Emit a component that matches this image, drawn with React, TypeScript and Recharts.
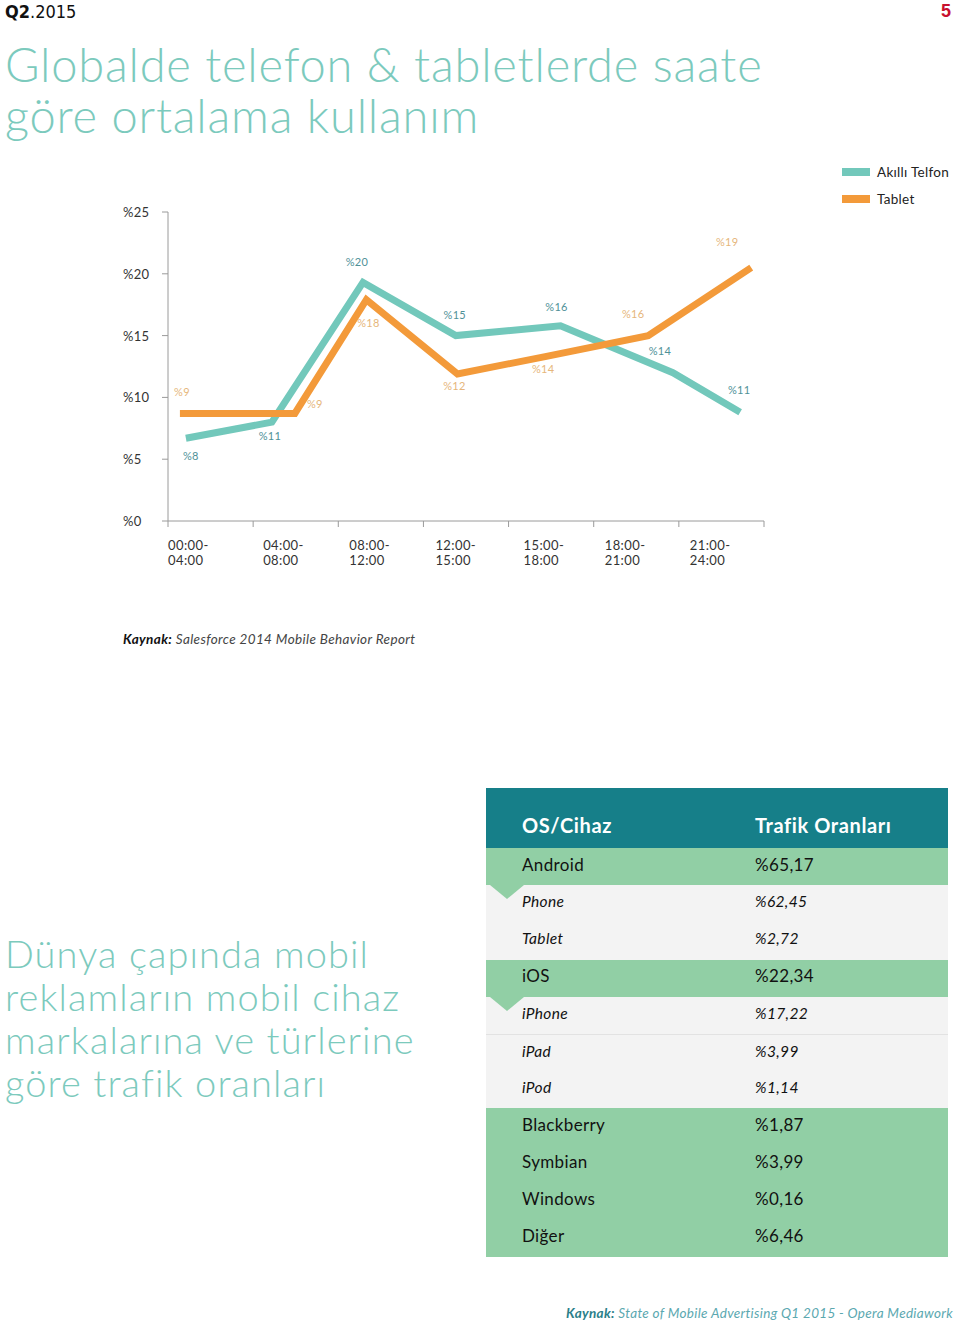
import { LineChart, Line, XAxis, YAxis, LabelList } from 'recharts';

// saat dilimleri (x ekseni)
const slotStarts = ['00:00', '04:00', '08:00', '12:00', '15:00', '18:00', '21:00'];
const slotEnds = ['04:00', '08:00', '12:00', '15:00', '18:00', '21:00', '24:00'];
const yTicks = [0, 5, 10, 15, 20, 25];

// Akıllı telefon
const phoneX = [0.21, 1.22, 2.29, 3.38, 4.61, 5.93, 6.72];
const phoneY = [6.7, 8.0, 19.3, 15.0, 15.8, 12.0, 8.8];
const phoneLabels = ['%8', '%11', '%20', '%15', '%16', '%14', '%11'];

// Tablet
const tabletX = [0.14, 1.49, 2.33, 3.4, 4.43, 5.64, 6.85];
const tabletY = [8.7, 8.7, 17.9, 11.9, 13.3, 15.0, 20.5];
const tabletLabels = ['%9', '%9', '%18', '%12', '%14', '%16', '%19'];

// tablo
const tableRows = [
  { name: 'Android', value: '%65,17', kind: 'os', notch: true },
  { name: 'Phone', value: '%62,45', kind: 'sub' },
  { name: 'Tablet', value: '%2,72', kind: 'sub' },
  { name: 'iOS', value: '%22,34', kind: 'os', notch: true },
  { name: 'iPhone', value: '%17,22', kind: 'sub' },
  { name: 'iPad', value: '%3,99', kind: 'sub', line: true },
  { name: 'iPod', value: '%1,14', kind: 'sub' },
  { name: 'Blackberry', value: '%1,87', kind: 'os' },
  { name: 'Symbian', value: '%3,99', kind: 'os' },
  { name: 'Windows', value: '%0,16', kind: 'os' },
  { name: 'Diğer', value: '%6,46', kind: 'os' },
];

const phoneData = phoneX.map((x, i) => ({ x, y: phoneY[i] }));
const tabletData = tabletX.map((x, i) => ({ x, y: tabletY[i] }));

// label offsets (px) from each vertex
const phoneOff = [[5, 17], [-2, 13], [-6, -21], [-1, -21], [-4, -19], [-13, -22], [-1, -23]];
const tabletOff = [[2, -22], [20, -10], [2, 23], [-3, 12], [-2, 12], [-15, -22], [-24, -26]];
// x tick label shift from tick mark
const slotShift = [0, 10, 11, 12, 15, 11, 11];

const TEAL = '#72c8bb';
const ORANGE = '#f39a3a';
const FONT = 'Lato, "Open Sans", sans-serif';

function pointLabel(labels: string[], offs: number[][], color: string) {
  return (props: any) => {
    const { x, y, index } = props;
    return (
      <text
        x={x + offs[index][0]}
        y={y + offs[index][1]}
        textAnchor="middle"
        dominantBaseline="central"
        fontSize={11}
        fill={color}
        fontFamily={FONT}
        letterSpacing={0.3}
      >
        {labels[index]}
      </text>
    );
  };
}

function XTick(props: any) {
  const { x, y, payload } = props;
  const i = payload.value;
  if (i >= slotStarts.length) return null;
  const tx = x + slotShift[i];
  return (
    <text x={tx} y={y} fontSize={13} fill="#333" fontFamily={FONT} letterSpacing={0.4}>
      <tspan x={tx} dy={21}>{slotStarts[i]}-</tspan>
      <tspan x={tx} dy={15}>{slotEnds[i]}</tspan>
    </text>
  );
}

function YTick(props: any) {
  const { x, y, payload } = props;
  return (
    <text x={x - 39} y={y} dominantBaseline="central" fontSize={13} fill="#333" fontFamily={FONT} letterSpacing={0.3}>
      %{payload.value}
    </text>
  );
}

export default function App() {
  return (
    <div style={{ position: 'absolute', left: 0, top: 0, width: 960, height: 1327, background: '#fff', fontFamily: FONT }}>
      <div style={{ position: 'absolute', left: 5, top: 1, fontSize: 18, fontFamily: '"Liberation Sans Narrow", "DejaVu Sans Condensed", sans-serif', color: '#111' }}>
        <b>Q2</b>.2015
      </div>
      <div style={{ position: 'absolute', right: 9, top: 1, fontSize: 18, fontWeight: 700, color: '#c8102e', fontFamily: '"Liberation Sans Narrow", sans-serif' }}>
        5
      </div>
      <div style={{ position: 'absolute', left: 5, top: 39, fontSize: 47, lineHeight: '51px', fontWeight: 300, letterSpacing: 0.8, color: '#7ccabd' }}>
        Globalde telefon &amp; tabletlerde saate
        <br />
        göre ortalama kullanım
      </div>

      <div style={{ position: 'absolute', left: 0, top: 0 }}>
        <LineChart width={800} height={600} margin={{ top: 212, right: 36, bottom: 19, left: 123 }}>
          <XAxis
            type="number"
            dataKey="x"
            domain={[0, 7]}
            ticks={[0, 1, 2, 3, 4, 5, 6, 7]}
            interval={0}
            height={60}
            tickSize={6}
            tick={<XTick />}
            stroke="#9a9a9a"
          />
          <YAxis
            type="number"
            domain={[0, 25]}
            ticks={yTicks}
            width={45}
            tickSize={6}
            tickMargin={0}
            tick={<YTick />}
            stroke="#9a9a9a"
          />
          <Line
            data={phoneData}
            dataKey="y"
            type="linear"
            stroke={TEAL}
            strokeWidth={7}
            strokeLinejoin="miter"
            strokeLinecap="butt"
            dot={false}
            isAnimationActive={false}
          >
            <LabelList dataKey="y" content={pointLabel(phoneLabels, phoneOff, '#4f9198')} />
          </Line>
          <Line
            data={tabletData}
            dataKey="y"
            type="linear"
            stroke={ORANGE}
            strokeWidth={7}
            strokeLinejoin="miter"
            strokeLinecap="butt"
            dot={false}
            isAnimationActive={false}
          >
            <LabelList dataKey="y" content={pointLabel(tabletLabels, tabletOff, '#e6b67b')} />
          </Line>
        </LineChart>
      </div>

      {/* legend */}
      <div style={{ position: 'absolute', left: 842, top: 158, fontSize: 13.5, letterSpacing: 0.3, color: '#222' }}>
        {[
          { name: 'Akıllı Telfon', color: TEAL },
          { name: 'Tablet', color: ORANGE },
        ].map((l) => (
          <div key={l.name} style={{ display: 'flex', alignItems: 'center', height: 27 }}>
            <span style={{ display: 'inline-block', width: 28, height: 8, background: l.color, marginRight: 7 }} />
            {l.name}
          </div>
        ))}
      </div>

      <div style={{ position: 'absolute', left: 123, top: 631, fontSize: 13.5, letterSpacing: 0.37, fontStyle: 'italic', color: '#444' }}>
        <b style={{ color: '#111' }}>Kaynak:</b> Salesforce 2014 Mobile Behavior Report
      </div>

      <div style={{ position: 'absolute', left: 5, top: 932, fontSize: 38, lineHeight: '43px', fontWeight: 300, letterSpacing: 1.1, color: '#7ccabd' }}>
        Dünya çapında mobil
        <br />
        reklamların mobil cihaz
        <br />
        markalarına ve türlerine
        <br />
        göre trafik oranları
      </div>

      {/* tablo */}
      <div style={{ position: 'absolute', left: 486, top: 788, width: 462 }}>
        <div style={{ position: 'relative', height: 60, background: '#167f89', color: '#fff', fontWeight: 700, fontSize: 20, letterSpacing: 0.6 }}>
          <span style={{ position: 'absolute', left: 36, top: 25 }}>OS/Cihaz</span>
          <span style={{ position: 'absolute', left: 269, top: 25 }}>Trafik Oranları</span>
        </div>
        {tableRows.map((r) => (
          <div
            key={r.name}
            style={{
              position: 'relative',
              height: 37.2,
              background: r.kind === 'os' ? '#91cfa5' : '#f3f3f3',
              borderTop: r.line ? '1px solid #e2e2e2' : 'none',
              boxSizing: 'border-box',
              color: '#111',
              fontSize: r.kind === 'os' ? 17 : 15.5,
              letterSpacing: 0.35,
              fontStyle: r.kind === 'os' ? 'normal' : 'italic',
              display: 'flex',
              alignItems: 'center',
              paddingBottom: 5,
            }}
          >
            <span style={{ position: 'absolute', left: 36 }}>{r.name}</span>
            <span style={{ position: 'absolute', left: 269 }}>{r.value}</span>
            {r.notch && (
              <svg width={34} height={15} style={{ position: 'absolute', left: 4, top: 37, zIndex: 2 }}>
                <polygon points="0,0 34,0 17,14" fill="#91cfa5" />
              </svg>
            )}
          </div>
        ))}
      </div>

      <div style={{ position: 'absolute', right: 7, top: 1305, fontSize: 13.5, letterSpacing: 0.32, fontStyle: 'italic', color: '#5ba8b0' }}>
        <b style={{ color: '#2c7f8a' }}>Kaynak:</b> State of Mobile Advertising Q1 2015 - Opera Mediawork
      </div>
    </div>
  );
}
